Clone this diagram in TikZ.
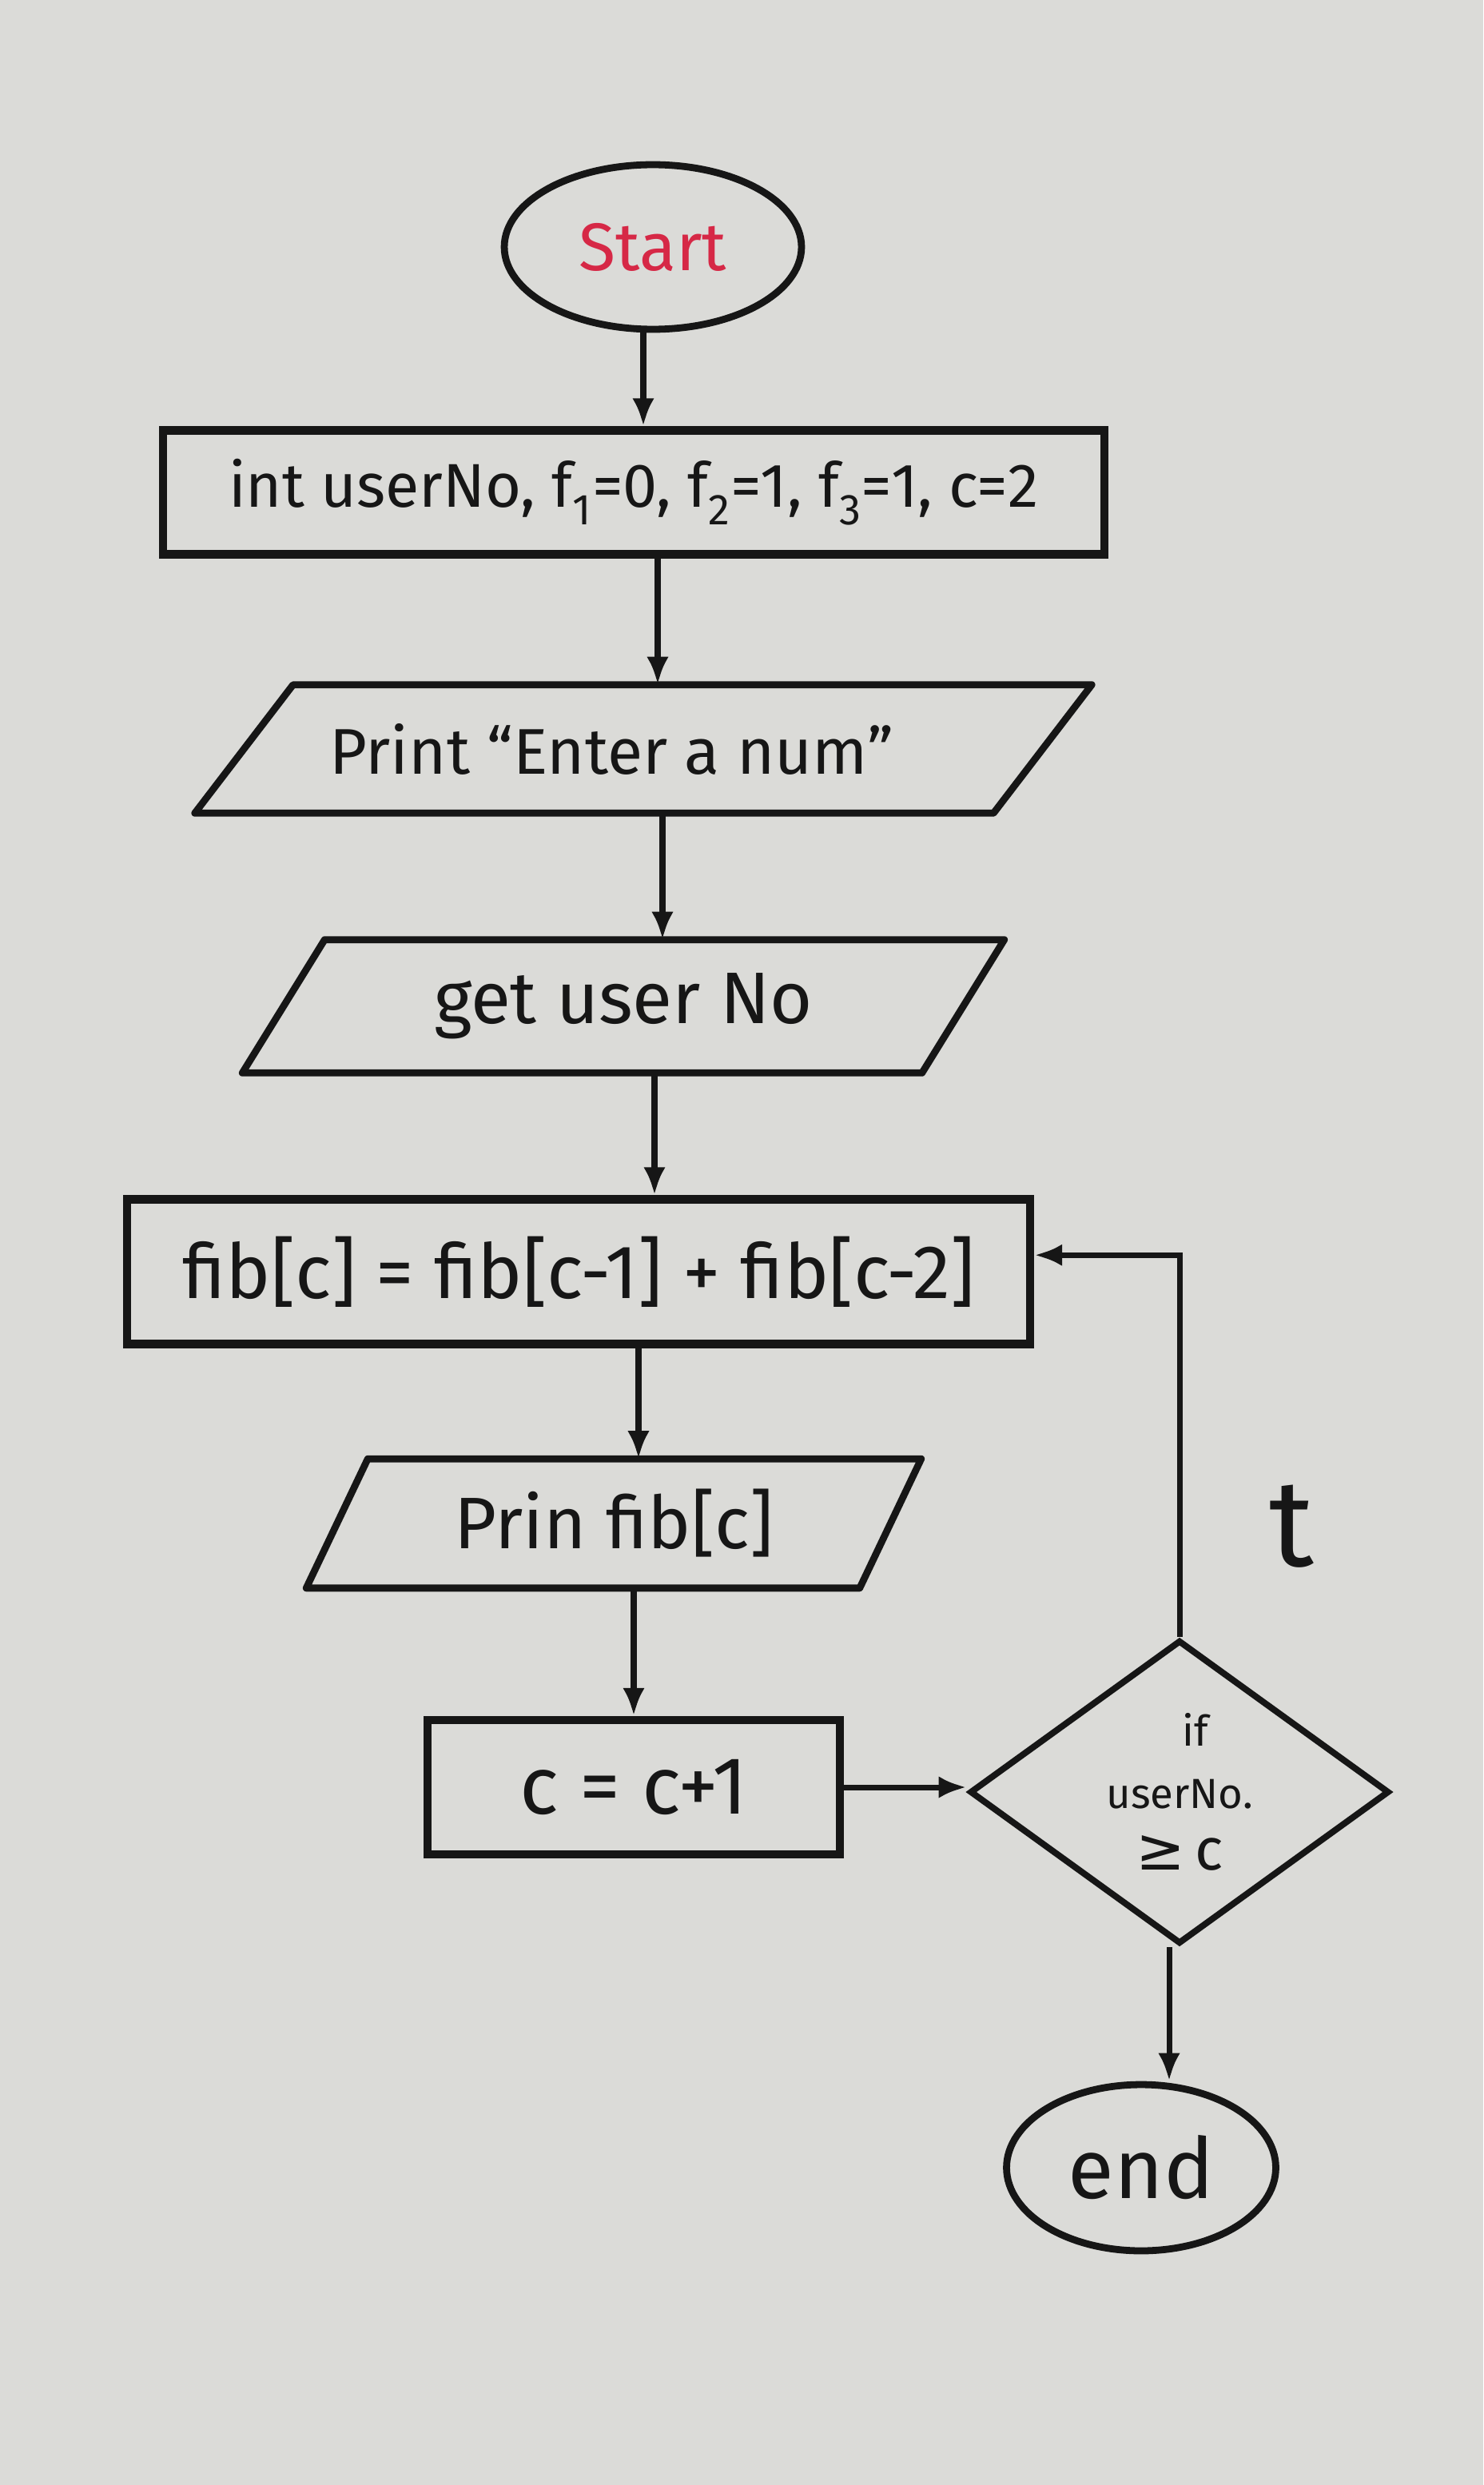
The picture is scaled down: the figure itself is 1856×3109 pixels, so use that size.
\documentclass[tikz,border=0pt]{standalone}
\usepackage{fontspec}
\setmainfont{Fira Sans}
\newfontfamily\symfont{DejaVu Sans}
\usetikzlibrary{shapes.geometric,arrows.meta,calc}
\definecolor{paper}{RGB}{219,219,216}
\definecolor{ink}{RGB}{22,22,22}
\definecolor{startred}{RGB}{214,40,70}
\begin{document}
\begin{tikzpicture}[x=0.02cm,y=-0.02cm,
  every node/.style={text=ink},
  boxnode/.style={draw=ink,line width=6pt,rectangle,inner sep=0pt},
  ovalnode/.style={draw=ink,line width=5pt,ellipse,inner sep=0pt},
  ionode/.style={rectangle,inner sep=0pt},
  iopath/.style={draw=ink,line width=5pt,line join=round},
  decnode/.style={draw=ink,line width=4.5pt,diamond,inner sep=0pt,align=center},
  arr/.style={draw=ink,line width=4pt,-{Latex[length=0.7cm,width=0.55cm]}}]
\fill[paper] (0,0) rectangle (1856,3109);
\useasboundingbox (0,0) rectangle (1856,3109);

% nodes
\node[ovalnode,minimum width=7.44cm,minimum height=4.12cm,font=\fontsize{48}{54}\selectfont,text=startred] (start) at (817,309) {Start};
\node[boxnode,minimum width=23.56cm,minimum height=3.1cm,font=\fontsize{44}{50}\selectfont] (init) at (793,616) {int userNo, f\textsubscript{1}=0, f\textsubscript{2}=1, f\textsubscript{3}=1, c=2};
\node[ionode,minimum width=19.98cm,minimum height=3.2cm,font=\fontsize{46}{52}\selectfont] (print) at (805,937) {\hspace*{-1.6cm}Print ``Enter a num''};
\node[ionode,minimum width=17.0cm,minimum height=3.32cm,font=\fontsize{52}{58}\selectfont] (get) at (780,1259) {get user No};
\node[boxnode,minimum width=22.6cm,minimum height=3.62cm,font=\fontsize{54}{60}\selectfont] (fib) at (724,1591) {fib[c] = fib[c-1] + fib[c-2]};
\node[ionode,minimum width=13.84cm,minimum height=3.22cm,font=\fontsize{52}{58}\selectfont] (pfib) at (768,1906) {Prin fib[c]};
\node[boxnode,minimum width=10.32cm,minimum height=3.36cm,font=\fontsize{58}{64}\selectfont] (cbox) at (793,2236) {c = c+1};
\node[decnode,minimum width=10.5cm,minimum height=7.34cm,font=\fontsize{30}{44}\selectfont] (dec) at (1476,2242) {\hspace*{0.8cm}if\\userNo.\\{\fontsize{42}{48}\selectfont{\symfont ≥}\,c}};
\node[ovalnode,minimum width=6.74cm,minimum height=4.16cm,font=\fontsize{60}{66}\selectfont] (end) at (1428,2712) {end};
\node[font=\fontsize{88}{94}\selectfont] (tlabel) at (1616,1910) {t};

% parallelogram outlines
\draw[iopath] ([xshift=-1.23cm]print.south west) -- ([xshift=1.23cm]print.north west) -- ([xshift=1.23cm]print.north east) -- ([xshift=-1.23cm]print.south east) -- cycle;
\draw[iopath] ([xshift=-1.03cm]get.south west) -- ([xshift=1.03cm]get.north west) -- ([xshift=1.03cm]get.north east) -- ([xshift=-1.03cm]get.south east) -- cycle;
\draw[iopath] ([xshift=-0.77cm]pfib.south west) -- ([xshift=0.77cm]pfib.north west) -- ([xshift=0.77cm]pfib.north east) -- ([xshift=-0.77cm]pfib.south east) -- cycle;

% connectors
\coordinate (a1) at ([xshift=-0.24cm]start.south);
\draw[arr] (a1) -- (a1 |- init.north);
\coordinate (a2) at ([xshift=0.6cm]init.south);
\draw[arr] (a2) -- (a2 |- print.north);
\coordinate (a3) at ([xshift=0.48cm]print.south);
\draw[arr] (a3) -- (a3 |- get.north);
\coordinate (a4) at ([xshift=0.78cm]get.south);
\draw[arr] (a4) -- (a4 |- fib.north);
\coordinate (a5) at ([xshift=1.5cm]fib.south);
\draw[arr] (a5) -- (a5 |- pfib.north);
\coordinate (a6) at (cbox.north |- pfib.south);
\draw[arr] (a6) -- (cbox.north);
\draw[arr] (cbox.east) -- (cbox.east -| dec.west);
\coordinate (a7) at ([yshift=-1.5cm]dec.north |- fib.north east);
\draw[arr] (dec.north) -- (a7) -- (a7 -| fib.east);
\coordinate (a8) at ([xshift=-0.26cm]dec.south);
\draw[arr] (a8) -- (a8 |- end.north);
\end{tikzpicture}
\end{document}
